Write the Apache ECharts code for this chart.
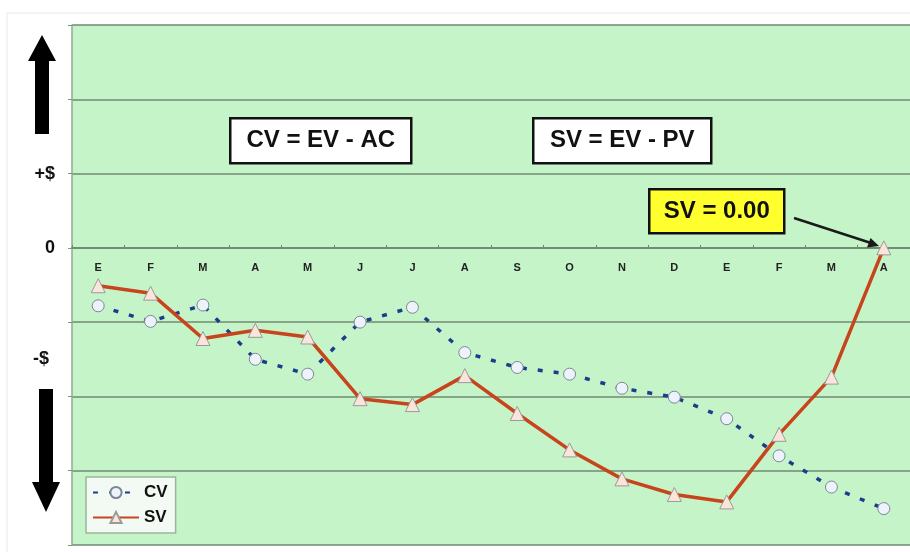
<!DOCTYPE html>
<html>
<head>
<meta charset="utf-8">
<style>
  html, body { margin: 0; padding: 0; background: #fff; }
  #chart { width: 910px; height: 552px; }
</style>
<script src="https://cdn.jsdelivr.net/npm/echarts@6/dist/echarts.min.js"></script>
</head>
<body>
<div id="chart"></div>
<script>
// month initials along the zero line
const months = ['E', 'F', 'M', 'A', 'M', 'J', 'J', 'A', 'S', 'O', 'N', 'D', 'E', 'F', 'M', 'A'];
// cost variance and schedule variance (one grid step = 1 unit)
const cv = [-0.78, -0.99, -0.77, -1.50, -1.70, -1.00, -0.80, -1.41, -1.61, -1.70, -1.89, -2.01, -2.30, -2.80, -3.22, -3.51];
const sv = [-0.51, -0.61, -1.22, -1.11, -1.20, -2.03, -2.11, -1.72, -2.23, -2.72, -3.11, -3.32, -3.42, -2.51, -1.74, 0];
const yTickLabels = { '1': '+$', '0': '0' };
const yMin = -4, yMax = 3;

const chart = echarts.init(document.getElementById('chart'));
const font = 'Liberation Sans, Arial, sans-serif';

const gridTop = 25, gridBottom = 7;
const plotH = 552 - gridTop - gridBottom;
// move the category axis up onto the zero line (labels stay under it)
const zeroOffset = -plotH * (0 - yMin) / (yMax - yMin);

// little boxed formula label
function box(x, y, w, h, text, fill) {
  return {
    type: 'group',
    left: x,
    top: y,
    z: 100,
    children: [
      { type: 'rect', shape: { x: 0, y: 0, width: w, height: h }, style: { fill: fill, stroke: '#111', lineWidth: 2.5 } },
      {
        type: 'text',
        x: w / 2,
        y: h / 2,
        style: { text: text, fill: '#111', font: 'bold 24px ' + font, align: 'center', verticalAlign: 'middle' }
      }
    ]
  };
}

chart.setOption({
  animation: false,
  backgroundColor: '#fff',
  grid: {
    left: 72,
    right: 0,
    top: gridTop,
    bottom: gridBottom,
    outerBoundsMode: 'none',
    containLabel: false,
    show: true,
    backgroundColor: '#c6f4c9',
    borderWidth: 0
  },
  legend: {
    orient: 'vertical',
    left: 86,
    top: 477,
    itemWidth: 46,
    itemHeight: 14,
    itemGap: 8,
    padding: [7, 8, 7, 6],
    backgroundColor: '#f3faf3',
    borderColor: '#9bb59c',
    borderWidth: 1.5,
    textStyle: { fontFamily: font, fontWeight: 'bold', fontSize: 17, color: '#111' },
    data: ['CV', 'SV']
  },
  xAxis: {
    type: 'category',
    data: months,
    boundaryGap: true,
    offset: zeroOffset,
    axisLine: { onZero: false, lineStyle: { color: '#6f8c72', width: 2 } },
    axisTick: { show: true, inside: true, length: 3, lineStyle: { color: '#6f8c72' } },
    axisLabel: { interval: 0, margin: 15, fontFamily: font, fontWeight: 'bold', fontSize: 11, color: '#222' },
    splitLine: { show: false }
  },
  yAxis: {
    type: 'value',
    min: yMin,
    max: yMax,
    interval: 1,
    axisLine: { show: true, lineStyle: { color: '#8fab91', width: 1.5 } },
    axisTick: { show: true, length: 4, lineStyle: { color: '#7d977f' } },
    axisLabel: {
      margin: 17,
      fontFamily: font,
      fontWeight: 'bold',
      fontSize: 18,
      color: '#111',
      formatter: v => yTickLabels[String(v)] || ''
    },
    splitLine: { lineStyle: { color: '#6f8a72', width: 1.5 } }
  },
  series: [
    {
      name: 'CV',
      type: 'line',
      data: cv,
      symbol: 'circle',
      symbolSize: 12,
      itemStyle: { color: '#eef3fb', borderColor: '#7b8797', borderWidth: 1 },
      lineStyle: { color: '#1c3d8c', width: 3.5, type: [5, 11] },
      z: 3
    },
    {
      name: 'SV',
      type: 'line',
      data: sv,
      symbol: 'triangle',
      symbolSize: 14,
      itemStyle: { color: '#fbe5db', borderColor: '#9a9a9a', borderWidth: 1 },
      lineStyle: { color: '#c8441c', width: 3.5 },
      z: 4
    }
  ],
  graphic: [
    // faint outer frame
    { type: 'rect', shape: { x: 7, y: 13, width: 910, height: 545 }, style: { fill: 'none', stroke: '#e8e8e8', lineWidth: 1 }, z: -1 },
    // up arrow
    { type: 'polygon', shape: { points: [[42, 35], [56, 61], [49, 61], [49, 134], [35, 134], [35, 61], [28, 61]] }, style: { fill: '#000' } },
    // down arrow
    { type: 'polygon', shape: { points: [[39, 389], [53, 389], [53, 482], [60, 482], [46, 512], [32, 482], [39, 482]] }, style: { fill: '#000' } },
    { type: 'text', left: 33, top: 350, style: { text: '-$', fill: '#111', font: 'bold 18px ' + font } },
    box(229, 117, 181, 45, 'CV = EV - AC', '#fff'),
    box(532, 117, 178, 45, 'SV = EV - PV', '#fff'),
    box(648, 188, 135, 44, 'SV = 0.00', '#ffff2e'),
    // pointer to the last SV point
    { type: 'line', shape: { x1: 794, y1: 218, x2: 871, y2: 243 }, style: { stroke: '#1a1a1a', lineWidth: 2.5 }, z: 100 },
    { type: 'polygon', shape: { points: [[879, 246], [867, 247.5], [870.5, 238]] }, style: { fill: '#1a1a1a' }, z: 100 }
  ]
});
</script>
</body>
</html>
